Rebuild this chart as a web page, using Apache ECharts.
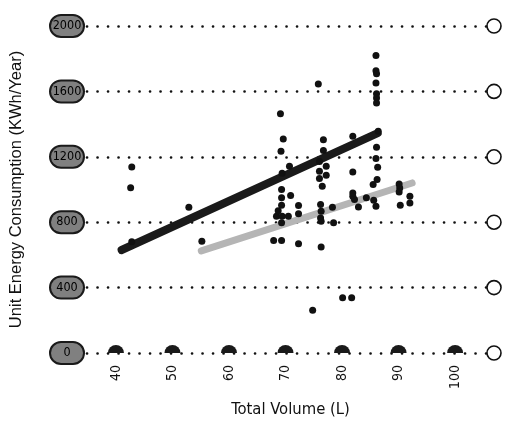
<!DOCTYPE html>
<html>
<head>
<meta charset="utf-8">
<script src="https://cdn.jsdelivr.net/npm/echarts@6/dist/echarts.min.js"></script>
<style>
  html, body { margin: 0; padding: 0; background: #fff; }
  #main { width: 508px; height: 423px; }
</style>
</head>
<body>
<div id="main"></div>
<script>
// tick values
var yTicks = [0, 400, 800, 1200, 1600, 2000];
var xTicks = [40, 50, 60, 70, 80, 90, 100];

// observations: total volume (L) and unit energy consumption (kWh/yr)
var volume = [42.8, 42.6, 42.8, 52.9, 55.2,
  69.1, 69.6, 69.2, 70.7, 69.4, 69.3, 69.3, 70.9, 69.3, 68.4, 69.4, 70.5, 69.3, 67.9, 69.3, 68.7,
  72.3, 72.3, 72.3, 74.8,
  75.8, 76.7, 76.7, 76.0, 76.0, 77.2, 76.0, 76.5, 77.2, 76.2, 76.3, 76.2, 76.3, 78.3, 76.3, 78.5,
  80.1, 81.7,
  81.9, 81.9, 81.9, 81.9, 82.2, 82.9,
  86.0, 86.0, 86.1, 86.0, 86.1, 86.1, 86.1, 86.4, 86.1, 86.0, 86.3, 86.2, 85.5, 84.3, 85.6, 86.0,
  90.1, 90.2, 90.1, 90.3, 92.0, 92.0];
var energy = [1138, 1010, 680, 892, 684,
  1464, 1309, 1234, 1142, 1100, 1000, 949, 963, 904, 837, 837, 837, 796, 688, 688, 870,
  902, 851, 668, 261,
  1645, 1305, 1238, 1172, 1111, 1142, 1067, 1020, 1087, 908, 867, 826, 806, 892, 649, 796,
  338, 338,
  1325, 1107, 979, 959, 939, 893,
  1820, 1726, 1708, 1651, 1586, 1559, 1529, 1356, 1258, 1189, 1136, 1061, 1030, 949, 935, 898,
  1034, 1009, 985, 904, 959, 918];

// fitted lines
var darkFitX = [41.0, 86.3];
var darkFitY = [630, 1345];
var grayFitX = [55.1, 92.4];
var grayFitY = [625, 1040];

var xMin = 34.88, xMax = 106.88;

function zip(a, b) {
  return a.map(function (v, i) { return [v, b[i]]; });
}

var myChart = echarts.init(document.getElementById('main'));

var font = '"Liberation Sans Narrow", "DejaVu Sans Condensed", "Liberation Sans", sans-serif';

myChart.setOption({
  animation: false,
  grid: { left: 86, right: 14, top: 26, bottom: 70 },
  xAxis: {
    type: 'value',
    min: xMin,
    max: xMax,
    name: 'Total Volume (L)',
    nameLocation: 'middle',
    nameGap: 48,
    nameTextStyle: { fontFamily: font, fontSize: 16.5, color: '#111' },
    axisLine: { show: false },
    axisTick: { show: false },
    splitLine: { show: false },
    axisLabel: {
      customValues: xTicks,
      rotate: 90,
      margin: 12,
      fontFamily: font,
      fontSize: 14,
      color: '#111'
    }
  },
  yAxis: {
    type: 'value',
    min: 0,
    max: 2000,
    interval: 400,
    name: 'Unit Energy Consumption (KWh/Year)',
    nameLocation: 'middle',
    nameGap: 62,
    nameTextStyle: { fontFamily: '"Liberation Sans", sans-serif', fontSize: 16.5, color: '#111' },
    axisLine: { show: false },
    axisTick: { show: false },
    splitLine: {
      show: true,
      lineStyle: { color: '#111', width: 2.6, type: [0.1, 10.4], cap: 'round' }
    },
    axisLabel: {
      margin: 20,
      formatter: function (v) { return String(v); },
      fontFamily: font,
      fontSize: 12.5,
      color: '#000',
      backgroundColor: '#808080',
      borderColor: '#1a1a1a',
      borderWidth: 2,
      borderRadius: 11,
      width: 26,
      align: 'center',
      padding: [4, 3, 3, 3]
    }
  },
  series: [
    {
      type: 'line',
      data: zip(darkFitX, darkFitY),
      symbol: 'none',
      lineStyle: { color: '#1a1a1a', width: 8, cap: 'round' },
      z: 3
    },
    {
      type: 'line',
      data: zip(grayFitX, grayFitY),
      symbol: 'none',
      lineStyle: { color: '#b5b5b5', width: 7, cap: 'round' },
      z: 3
    },
    {
      type: 'scatter',
      data: zip(volume, energy),
      symbolSize: 7,
      itemStyle: { color: '#111', opacity: 1 },
      z: 4
    },
    {
      type: 'scatter',
      data: xTicks.map(function (v) { return [v, 0]; }),
      symbol: 'path://M0,10 A10,10 0 0 1 20,10 Z',
      symbolSize: [16, 8],
      symbolOffset: [0, -4],
      itemStyle: { color: '#1a1a1a', opacity: 1 },
      z: 4
    },
    {
      type: 'scatter',
      data: yTicks.map(function (v) { return [xMax, v]; }),
      symbol: 'circle',
      symbolSize: 14,
      clip: false,
      itemStyle: { color: '#fff', borderColor: '#111', borderWidth: 1.6, opacity: 1 },
      z: 4
    }
  ]
});
</script>
</body>
</html>
